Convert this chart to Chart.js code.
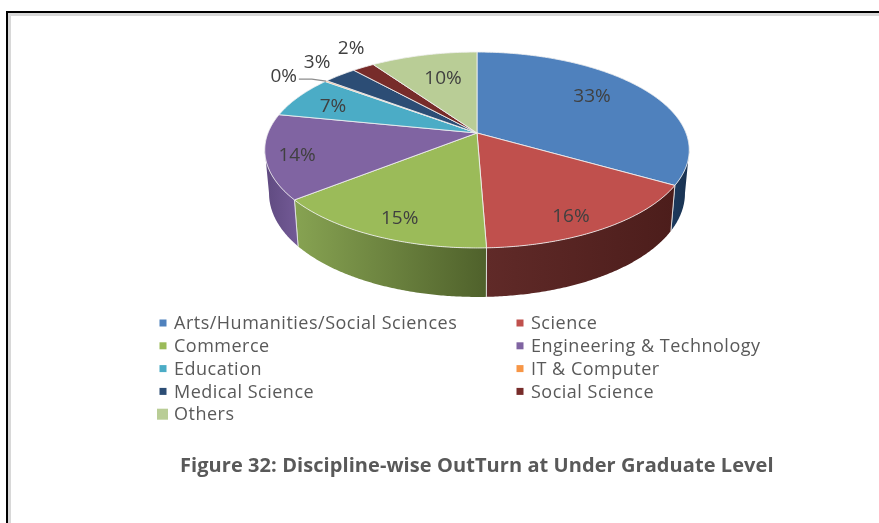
<!DOCTYPE html>
<html><head><meta charset="utf-8">
<style>
html,body{margin:0;padding:0;background:#fff;width:879px;height:523px;overflow:hidden}
#frame{position:absolute;left:6px;top:11px;right:-10px;bottom:-10px;border-left:2px solid #000;border-top:2px solid #000;box-shadow:inset 3px 3px 0 #d8d8d8}
#box{position:absolute;left:0;top:0;width:879px;height:523px;filter:blur(0.5px)}
</style>
<script src="https://cdn.jsdelivr.net/npm/chart.js@4"></script>
</head><body>
<div id="frame"></div>
<div id="box"><canvas id="c" width="879" height="523"></canvas></div>
<script>
const categories=["Arts/Humanities/Social Sciences","Science","Commerce","Engineering & Technology","Education","IT & Computer","Medical Science","Social Science","Others"];
const shares=[33.4,16.0,14.8,14.0,7.0,0.2,3.0,2.0,9.6];
const topColors=["#4f81bd","#c0504d","#9bbb59","#8064a2","#4bacc6","#f79646","#2c4d75","#772c2a","#b9cd96"];
const titleText="Figure 32: Discipline-wise OutTurn at Under Graduate Level";

// side wall shading per slice: colour at left end, colour at right end
const sideLeft=["#1c3a5e","#602a28","#87a352","#5f4a80","#2f7f94","#b86a2c","#1c3557","#4a1a19","#7c9160"];
const sideRight=["#1a3250","#4c1d1b","#4f612b","#735a96","#2f7f94","#b86a2c","#1c3557","#4a1a19","#7c9160"];
// data-label placement: radial fraction and angular nudge (degrees) from slice middle
const labelRadial=[0.73,0.847,0.838,0.857,0.784,1.238,1.229,1.277,0.668];
const labelTurn=[-6,3.5,-2,-1.4,-1.7,-3.7,1.5,4.2,1.6];

const perspective=0.1735, squash=95/209, depthBase=42, depthFront=7, shrink=0.98;
const deg=Math.PI/180;

function rimPoint(el,theta,f){
  const u=f*Math.sin(theta), v=f*Math.cos(theta), w=1/(1+perspective*v);
  return [el.x+el.outerRadius*u*w, el.y-el.outerRadius*squash*v*w];
}
function lowerPoint(el,theta){
  const p=rimPoint(el,theta,1);
  return [el.x+(p[0]-el.x)*shrink, p[1]+depthBase-depthFront*Math.cos(theta)];
}
const pie3d={
  id:'pie3d',
  beforeDatasetDraw(chart){
    const ctx=chart.ctx, arcs=chart.getDatasetMeta(0).data;
    const visA=100*deg, visB=260*deg;
    ctx.save();
    ctx.lineJoin='round';
    // walls
    arcs.forEach((el,i)=>{
      const a=Math.max(el.startAngle+Math.PI/2,visA), b=Math.min(el.endAngle+Math.PI/2,visB);
      if(b<=a) return;
      const pts=[],low=[];
      for(let t=a;t<b;t+=deg/2){pts.push(rimPoint(el,t,1));low.push(lowerPoint(el,t));}
      pts.push(rimPoint(el,b,1));low.push(lowerPoint(el,b));
      const xs=pts.concat(low).map(p=>p[0]);
      const g=ctx.createLinearGradient(Math.min(...xs),0,Math.max(...xs),0);
      g.addColorStop(0,sideLeft[i]);g.addColorStop(1,sideRight[i]);
      ctx.beginPath();
      pts.forEach((p,j)=>j?ctx.lineTo(p[0],p[1]):ctx.moveTo(p[0],p[1]));
      low.reverse().forEach(p=>ctx.lineTo(p[0],p[1]));
      ctx.closePath();
      ctx.fillStyle=g;ctx.fill();
      // seams between walls
      ctx.strokeStyle='rgba(235,235,235,0.8)';ctx.lineWidth=1;
      if(b<visB||a>visA){
        [a>visA?a:null,b<visB?b:null].forEach(t=>{
          if(t===null)return;
          const p=rimPoint(el,t,1),q=lowerPoint(el,t);
          ctx.beginPath();ctx.moveTo(p[0],p[1]);ctx.lineTo(q[0],q[1]);ctx.stroke();
        });
      }
    });
    // top surface
    arcs.forEach((el,i)=>{
      const a=el.startAngle+Math.PI/2,b=el.endAngle+Math.PI/2;
      ctx.beginPath();ctx.moveTo(el.x,el.y);
      for(let t=a;t<b;t+=deg/2){const p=rimPoint(el,t,1);ctx.lineTo(p[0],p[1]);}
      const e=rimPoint(el,b,1);ctx.lineTo(e[0],e[1]);ctx.closePath();
      ctx.fillStyle=topColors[i];ctx.fill();
      ctx.strokeStyle='rgba(240,240,240,0.85)';ctx.lineWidth=1;ctx.stroke();
    });
    ctx.restore();
    return false;
  },
  afterDraw(chart){
    const ctx=chart.ctx, arcs=chart.getDatasetMeta(0).data, labels=chart.data.labels, vals=chart.data.datasets[0].data;
    const total=vals.reduce((s,v)=>s+v,0);
    ctx.save();
    // data labels
    ctx.font='19px "Open Sans"';ctx.textAlign='center';ctx.textBaseline='middle';
    arcs.forEach((el,i)=>{
      const mid=(el.startAngle+el.endAngle)/2+Math.PI/2+labelTurn[i]*deg;
      const p=rimPoint(el,mid,labelRadial[i]);
      ctx.fillStyle='#404040';
      ctx.fillText(Math.round(vals[i]/total*100)+'%',p[0],p[1]+1);
    });
    // leader line of the near-zero slice
    const z=arcs[5], zm=(z.startAngle+z.endAngle)/2+Math.PI/2;
    const q=rimPoint(z,zm,1), s=rimPoint(z,zm+labelTurn[5]*deg,1.145);
    ctx.strokeStyle='#8c8c8c';ctx.lineWidth=1.2;
    ctx.beginPath();ctx.moveTo(s[0]+2,s[1]);ctx.lineTo(s[0]+15,s[1]);ctx.lineTo(q[0],q[1]);ctx.stroke();
    // legend
    ctx.textAlign='left';ctx.font='18px "Open Sans"';ctx.letterSpacing='0.5px';
    const colX=[174,531],rowY=323,rowH=22.8;
    labels.forEach((name,i)=>{
      const c=i%2,r=Math.floor(i/2),y=rowY+r*rowH;
      const big=i===labels.length-1,sz=big?11:7;
      ctx.fillStyle=topColors[i];
      ctx.fillRect(colX[c]-(big?17:14.5),y-sz/2,sz,sz);
      ctx.fillStyle='#595959';
      ctx.fillText(name,colX[c],y+1);
    });
    // caption
    ctx.font='bold 20px "Open Sans"';ctx.letterSpacing='0.07px';ctx.fillStyle='#595959';ctx.textAlign='left';
    ctx.fillText(titleText,180,466);
    ctx.restore();
  }
};
new Chart(document.getElementById('c'),{
  type:'pie',
  data:{labels:categories,datasets:[{data:shares,backgroundColor:topColors,radius:209}]},
  options:{
    responsive:false,animation:false,
    layout:{padding:{left:75,bottom:257}},
    plugins:{legend:{display:false},tooltip:{enabled:false},title:{display:false}}
  },
  plugins:[pie3d]
});
</script>
</body></html>
